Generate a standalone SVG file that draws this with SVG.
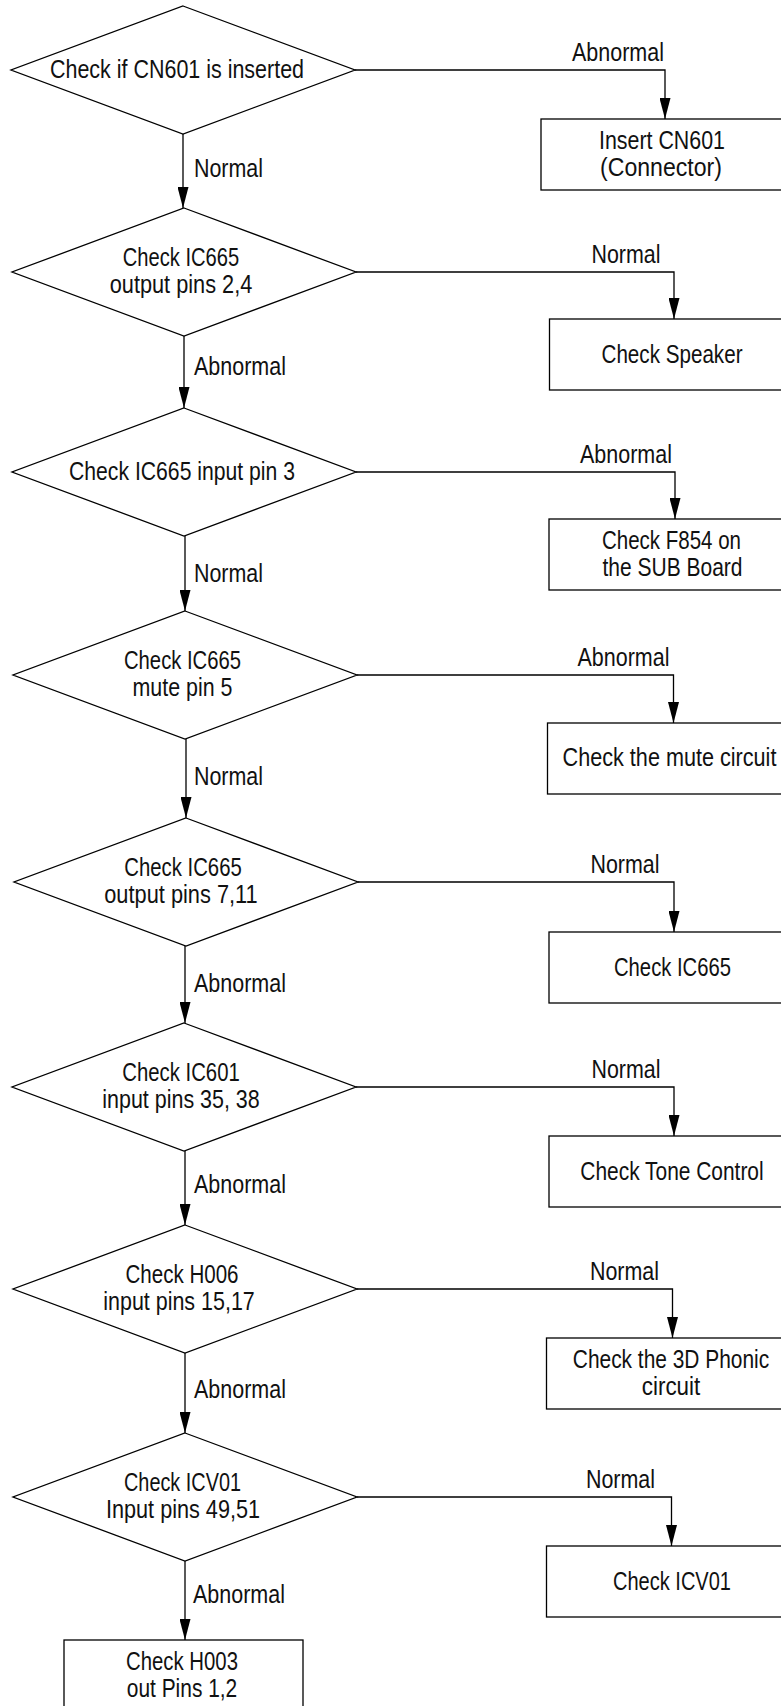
<svg xmlns="http://www.w3.org/2000/svg" width="781" height="1706" viewBox="0 0 781 1706">
<style>
  .shape { fill: #ffffff; stroke: #000000; stroke-width: 1.3; }
  .conn { fill: none; stroke: #000000; stroke-width: 1.3; marker-end: url(#arrow); }
  text { font-family: "Liberation Sans", Arial, sans-serif; font-size: 25.5px; fill: #111111; text-anchor: middle; }
  .lbl { text-anchor: start; }
</style>
<defs>
  <marker id="arrow" markerUnits="userSpaceOnUse" markerWidth="21" markerHeight="11" refX="21" refY="5.5" orient="auto">
    <path d="M0,0 L21,5.5 L0,11 Z" fill="#000000"/>
  </marker>
</defs>
<rect width="781" height="1706" fill="#ffffff"/>

<g id="connectors">
  <path class="conn" d="M183,134 L183,208"/>
  <path class="conn" d="M184,336 L184,408"/>
  <path class="conn" d="M185,536 L185,611"/>
  <path class="conn" d="M186,739 L186,818"/>
  <path class="conn" d="M185,946 L185,1023"/>
  <path class="conn" d="M185,1151 L185,1225"/>
  <path class="conn" d="M185,1353 L185,1433"/>
  <path class="conn" d="M185,1561 L185,1640"/>

  <path class="conn" d="M355,70 L665,70 L665,119"/>
  <path class="conn" d="M356,272 L674,272 L674,319"/>
  <path class="conn" d="M356,472 L675,472 L675,519"/>
  <path class="conn" d="M357,675 L673.5,675 L673.5,723"/>
  <path class="conn" d="M358,882 L674,882 L674,932"/>
  <path class="conn" d="M356,1087 L674,1087 L674,1136"/>
  <path class="conn" d="M357,1289 L672.5,1289 L672.5,1338"/>
  <path class="conn" d="M357,1497 L671.5,1497 L671.5,1546"/>

  <text class="lbl" x="194" y="177" textLength="69" lengthAdjust="spacingAndGlyphs">Normal</text>
  <text class="lbl" x="194" y="375" textLength="92" lengthAdjust="spacingAndGlyphs">Abnormal</text>
  <text class="lbl" x="194" y="582" textLength="69" lengthAdjust="spacingAndGlyphs">Normal</text>
  <text class="lbl" x="194" y="785" textLength="69" lengthAdjust="spacingAndGlyphs">Normal</text>
  <text class="lbl" x="194" y="991.5" textLength="92" lengthAdjust="spacingAndGlyphs">Abnormal</text>
  <text class="lbl" x="194" y="1193" textLength="92" lengthAdjust="spacingAndGlyphs">Abnormal</text>
  <text class="lbl" x="194" y="1397.5" textLength="92" lengthAdjust="spacingAndGlyphs">Abnormal</text>
  <text class="lbl" x="193" y="1603" textLength="92" lengthAdjust="spacingAndGlyphs">Abnormal</text>

  <text x="618" y="61" textLength="92" lengthAdjust="spacingAndGlyphs">Abnormal</text>
  <text x="626" y="263" textLength="69" lengthAdjust="spacingAndGlyphs">Normal</text>
  <text x="626" y="463" textLength="92" lengthAdjust="spacingAndGlyphs">Abnormal</text>
  <text x="623.5" y="666" textLength="92" lengthAdjust="spacingAndGlyphs">Abnormal</text>
  <text x="625" y="873" textLength="69" lengthAdjust="spacingAndGlyphs">Normal</text>
  <text x="626" y="1078" textLength="69" lengthAdjust="spacingAndGlyphs">Normal</text>
  <text x="624.5" y="1280" textLength="69" lengthAdjust="spacingAndGlyphs">Normal</text>
  <text x="620.5" y="1488" textLength="69" lengthAdjust="spacingAndGlyphs">Normal</text>
</g>

<g id="d1">
  <polygon class="shape" points="183,6 355,70 183,134 11,70"/>
  <text x="177" y="78" textLength="254" lengthAdjust="spacingAndGlyphs">Check if CN601 is inserted</text>
</g>
<g id="d2">
  <polygon class="shape" points="184,208 356,272 184,336 12,272"/>
  <text x="181" y="266" textLength="116.5" lengthAdjust="spacingAndGlyphs">Check IC665</text>
  <text x="181" y="293" textLength="142.5" lengthAdjust="spacingAndGlyphs">output pins 2,4</text>
</g>
<g id="d3">
  <polygon class="shape" points="184,408 356,472 184,536 12,472"/>
  <text x="182" y="480" textLength="226" lengthAdjust="spacingAndGlyphs">Check IC665 input pin 3</text>
</g>
<g id="d4">
  <polygon class="shape" points="185,611 357,675 185,739 13,675"/>
  <text x="182.5" y="669" textLength="117" lengthAdjust="spacingAndGlyphs">Check IC665</text>
  <text x="182.5" y="696" textLength="100" lengthAdjust="spacingAndGlyphs">mute pin 5</text>
</g>
<g id="d5">
  <polygon class="shape" points="186,818 358,882 186,946 14,882"/>
  <text x="183" y="876" textLength="117.5" lengthAdjust="spacingAndGlyphs">Check IC665</text>
  <text x="181" y="903" textLength="153.5" lengthAdjust="spacingAndGlyphs">output pins 7,11</text>
</g>
<g id="d6">
  <polygon class="shape" points="184,1023 356,1087 184,1151 12,1087"/>
  <text x="181" y="1081" textLength="117.5" lengthAdjust="spacingAndGlyphs">Check IC601</text>
  <text x="181" y="1108" textLength="157.5" lengthAdjust="spacingAndGlyphs">input pins 35, 38</text>
</g>
<g id="d7">
  <polygon class="shape" points="185,1225 357,1289 185,1353 13,1289"/>
  <text x="182" y="1283" textLength="113" lengthAdjust="spacingAndGlyphs">Check H006</text>
  <text x="179" y="1310" textLength="151.5" lengthAdjust="spacingAndGlyphs">input pins 15,17</text>
</g>
<g id="d8">
  <polygon class="shape" points="185,1433 357,1497 185,1561 13,1497"/>
  <text x="182.5" y="1491" textLength="117" lengthAdjust="spacingAndGlyphs">Check ICV01</text>
  <text x="183" y="1518" textLength="154" lengthAdjust="spacingAndGlyphs">Input pins 49,51</text>
</g>

<g id="b1">
  <rect class="shape" x="541" y="119" width="260" height="71"/>
  <text x="662" y="148.5" textLength="126" lengthAdjust="spacingAndGlyphs">Insert CN601</text>
  <text x="661" y="175.5" textLength="122" lengthAdjust="spacingAndGlyphs">(Connector)</text>
</g>
<g id="b2">
  <rect class="shape" x="549.5" y="319" width="260" height="71"/>
  <text x="672" y="362.5" textLength="141" lengthAdjust="spacingAndGlyphs">Check Speaker</text>
</g>
<g id="b3">
  <rect class="shape" x="549" y="519" width="260" height="71"/>
  <text x="671.5" y="548.5" textLength="139" lengthAdjust="spacingAndGlyphs">Check F854 on</text>
  <text x="672.5" y="575.5" textLength="140" lengthAdjust="spacingAndGlyphs">the SUB Board</text>
</g>
<g id="b4">
  <rect class="shape" x="547.5" y="723" width="260" height="71"/>
  <text transform="translate(669.5,766) scale(0.8485,1)">Check the mute circuit</text>
</g>
<g id="b5">
  <rect class="shape" x="549" y="932" width="260" height="71"/>
  <text x="672.5" y="975.5" textLength="117" lengthAdjust="spacingAndGlyphs">Check IC665</text>
</g>
<g id="b6">
  <rect class="shape" x="549" y="1136" width="260" height="71"/>
  <text transform="translate(672,1179.5) scale(0.8204,1)">Check Tone Control</text>
</g>
<g id="b7">
  <rect class="shape" x="546.5" y="1338" width="260" height="71"/>
  <text transform="translate(671,1367.5) scale(0.8204,1)">Check the 3D Phonic</text>
  <text x="671" y="1394.5" textLength="58.5" lengthAdjust="spacingAndGlyphs">circuit</text>
</g>
<g id="b8">
  <rect class="shape" x="546.5" y="1546" width="260" height="71"/>
  <text x="672" y="1589.5" textLength="118" lengthAdjust="spacingAndGlyphs">Check ICV01</text>
</g>
<g id="b9">
  <rect class="shape" x="64" y="1640" width="239" height="71"/>
  <text x="182" y="1669.5" textLength="112" lengthAdjust="spacingAndGlyphs">Check H003</text>
  <text x="182" y="1696.5" textLength="110.5" lengthAdjust="spacingAndGlyphs">out Pins 1,2</text>
</g>
</svg>
